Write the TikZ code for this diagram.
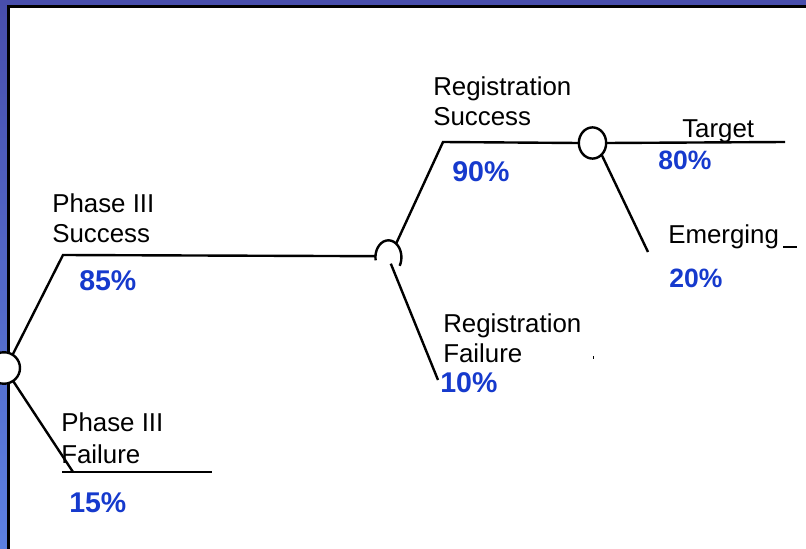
\documentclass[tikz,border=0pt]{standalone}
\usepackage{fontspec}
\setmainfont{Liberation Sans}
\usetikzlibrary{shapes.geometric}
\definecolor{pctblue}{RGB}{22,58,205}
\definecolor{frametop}{RGB}{72,78,172}
\definecolor{framebot}{RGB}{92,128,226}

\begin{document}
\begin{tikzpicture}[x=0.75pt,y=-0.75pt,
  branch/.style={line width=1.8pt},
  chance/.style={ellipse, draw, line width=1.8pt, fill=white, inner sep=0pt, outer sep=0pt},
  hiddenchance/.style={ellipse, draw=none, inner sep=0pt, outer sep=0pt},
  lbl/.style={anchor=base west, inner sep=0pt, font=\fontsize{19.4}{23}\selectfont},
  pct/.style={anchor=base west, inner sep=0pt, text=pctblue, font=\fontsize{21.4}{25}\selectfont\bfseries},
  pctsmall/.style={anchor=base west, inner sep=0pt, text=pctblue, font=\fontsize{19.9}{24}\selectfont\bfseries}]

\useasboundingbox (0,0) rectangle (806,549);
\fill[white] (0,0) rectangle (806,549);

% slide frame: blue bands on the left and top, black rule inside
\shade[top color=frametop, bottom color=framebot] (0,0) rectangle (8,549);
\fill[frametop] (0,0) rectangle (806,6);
\draw[line width=2.25pt] (8.5,549) -- (8.5,6.5) -- (806,6.5);

% chance nodes
\node[chance, minimum width=24pt, minimum height=23.6pt] (c1) at (4,368) {};
\node[hiddenchance, minimum width=19.5pt, minimum height=25.5pt] (c2) at (388.5,258) {};
\node[chance, minimum width=20.5pt, minimum height=23.4pt] (c3) at (592.5,143) {};
\draw[branch] (c2.190) arc[start angle=190, end angle=-30, x radius=9.75pt, y radius=12.75pt];

% branch points
\coordinate (a1) at (63,255);
\coordinate (f0) at (62,472);
\coordinate (f1) at (73,472);
\coordinate (f2) at (212,472);
\coordinate (b1) at (443,142);
\coordinate (b2) at (438,380);
\coordinate (t1) at (785,142);
\coordinate (e1) at (648,252);
\coordinate (e2) at (783,247);
\coordinate (e3) at (797,247);

% branches
\draw[branch] (c1.57) -- (a1) -- (c2.172);
\draw[branch] (c1.-55) -- (f1);
\draw[branch] (f0) -- (f2);
\draw[branch] (c2.62) -- (b1) -- (c3.west);
\draw[branch, shorten <=4.6pt] (c2.center) -- (b2);
\draw[branch] (c3.east) -- (t1);
\draw[branch] (c3.-52) -- (e1);
\draw[line width=1.5pt] (e2) -- (e3);
\fill (592.5,355.5) rectangle (593.5,358.5);

% labels
\node[lbl] (ps1) at (52,212) {Phase III};
\node[lbl] (ps2) at (52,242) {Success};
\node[pct] (p85) at (79,290) {85\%};
\node[lbl] (pf1) at (61,431) {Phase III};
\node[lbl] (pf2) at (61,463) {Failure};
\node[pct] (p15) at (69,512) {15\%};
\node[lbl] (rs1) at (433,96) {Registration};
\node[lbl] (rs2) at (433,126) {Success};
\node[pct] (p90) at (452,181) {90\%};
\node[lbl] (rf1) at (443,332) {Registration};
\node[lbl] (rf2) at (443,362) {Failure};
\node[pct] (p10) at (440,392) {10\%};
\node[lbl] (tg) at (682,138) {Target};
\node[pctsmall] (p80) at (658,170) {80\%};
\node[lbl] (em) at (668,243) {Emerging};
\node[pctsmall] (p20) at (669,287) {20\%};
\end{tikzpicture}
\end{document}
